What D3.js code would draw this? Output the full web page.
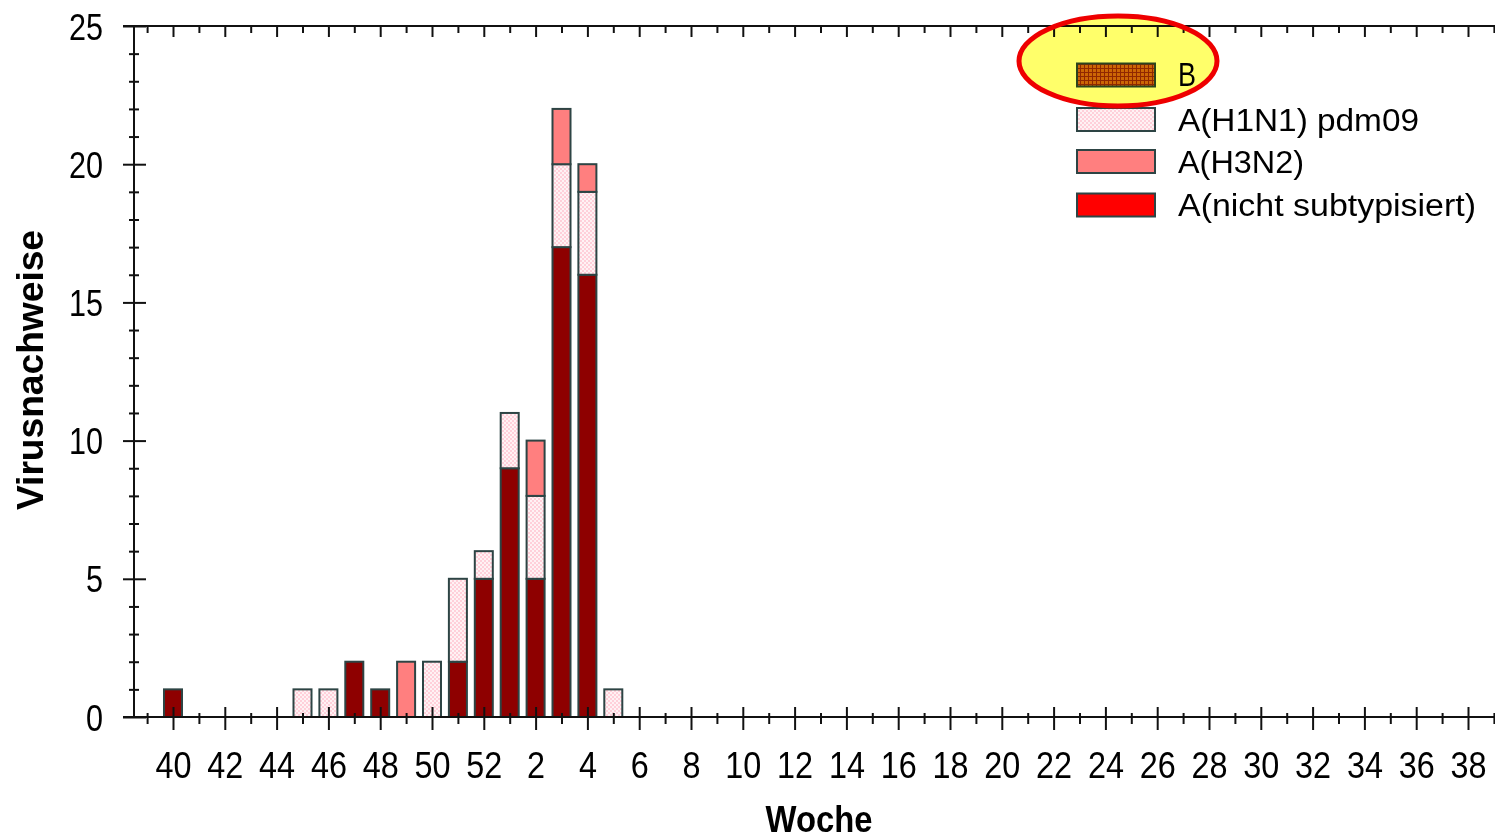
<!DOCTYPE html>
<html>
<head>
<meta charset="utf-8">
<script src="https://cdn.jsdelivr.net/npm/d3@7"></script>
<style>
  html, body { margin: 0; padding: 0; background: #fff; }
  svg { display: block; }
  text { font-family: "Liberation Sans", Arial, sans-serif; fill: #000; }
</style>
</head>
<body>
<svg id="chart" width="1495" height="840"></svg>
<script>
// ---- data ----
const weeks = [40,41,42,43,44,45,46,47,48,49,50,51,52,
  1,2,3,4,5,6,7,8,9,10,11,12,13,14,15,16,17,18,19,20,21,22,23,24,25,26,27,28,29,30,31,32,33,34,35,36,37,38,39];
const tickLabelWeeks = [40,42,44,46,48,50,52,2,4,6,8,10,12,14,16,18,20,22,24,26,28,30,32,34,36,38];
const yTicks = [0,5,10,15,20,25];
const nichtSubtyp = [1,0,0,0,0,0,0,2,1,0,0,2,5, 9,5,17,16,0,0,0,0,0,0,0,0,0,0,0,0,0,0,0,0,0,0,0,0,0,0,0,0,0,0,0,0,0,0,0,0,0,0,0];
const h1n1 = [0,0,0,0,0,1,1,0,0,0,2,3,1, 2,3,3,3,1,0,0,0,0,0,0,0,0,0,0,0,0,0,0,0,0,0,0,0,0,0,0,0,0,0,0,0,0,0,0,0,0,0,0];
const h3n2 = [0,0,0,0,0,0,0,0,0,2,0,0,0, 0,2,2,1,0,0,0,0,0,0,0,0,0,0,0,0,0,0,0,0,0,0,0,0,0,0,0,0,0,0,0,0,0,0,0,0,0,0,0];
const typeB = [0,0,0,0,0,0,0,0,0,0,0,0,0, 0,0,0,0,0,0,0,0,0,0,0,0,0,0,0,0,0,0,0,0,0,0,0,0,0,0,0,0,0,0,0,0,0,0,0,0,0,0,0];
const seriesNames = ["A(nicht subtypisiert)", "A(H1N1) pdm09", "A(H3N2)", "B"];
const legendOrder = ["B", "A(H1N1) pdm09", "A(H3N2)", "A(nicht subtypisiert)"];
const xTitle = "Woche";
const yTitle = "Virusnachweise";

// ---- setup ----
const svg = d3.select("#chart");
const defs = svg.append("defs");

// checker pattern for H1N1
const pH1 = defs.append("pattern").attr("id","pH1").attr("patternUnits","userSpaceOnUse")
  .attr("width",4).attr("height",4);
pH1.append("rect").attr("width",4).attr("height",4).attr("fill","#fff2f4");
pH1.append("rect").attr("width",2).attr("height",2).attr("fill","#ffd0da");
pH1.append("rect").attr("x",2).attr("y",2).attr("width",2).attr("height",2).attr("fill","#ffd0da");

// grid pattern for B
const pB = defs.append("pattern").attr("id","pB").attr("patternUnits","userSpaceOnUse")
  .attr("width",4).attr("height",4);
pB.append("rect").attr("width",4).attr("height",4).attr("fill","#cc660c");
pB.append("rect").attr("width",1).attr("height",4).attr("fill","#902800");
pB.append("rect").attr("width",4).attr("height",1).attr("fill","#902800");

const colors = {
  "A(nicht subtypisiert)": "#8e0000",
  "A(H1N1) pdm09": "url(#pH1)",
  "A(H3N2)": "#ff7f7f",
  "B": "url(#pB)"
};
const legendColors = {
  "A(nicht subtypisiert)": "#ff0000",
  "A(H1N1) pdm09": "url(#pH1)",
  "A(H3N2)": "#ff7f7f",
  "B": "url(#pB)"
};
const edge = "#2d4444";

const x = d3.scaleLinear().domain([-2, 51]).range([121.2, 121.2 + 53 * 25.9]);
const y = d3.scaleLinear().domain([0, 25]).range([717, 26]);
const xLeft = 123, xRight = 1495;

const idx = weeks.map((w, i) => i);
const majorIdx = idx.filter(i => tickLabelWeeks.includes(weeks[i]));
const minorIdx = [-1].concat(idx.filter(i => !tickLabelWeeks.includes(weeks[i])));

// ---- bars ----
const table = weeks.map((w, i) => ({
  i,
  "A(nicht subtypisiert)": nichtSubtyp[i],
  "A(H1N1) pdm09": h1n1[i],
  "A(H3N2)": h3n2[i],
  "B": typeB[i]
}));
const stack = d3.stack().keys(seriesNames)(table);
const barW = 18;
const gBars = svg.append("g");
stack.forEach(layer => {
  gBars.selectAll(null)
    .data(layer.filter(d => d[1] > d[0]))
    .join("rect")
    .attr("x", d => x(d.data.i) - barW / 2)
    .attr("width", barW)
    .attr("y", d => y(d[1]))
    .attr("height", d => y(d[0]) - y(d[1]))
    .attr("fill", colors[layer.key])
    .attr("stroke", edge)
    .attr("stroke-width", 2);
});

// ---- axes ----
const axColor = "#111";
// bottom major
const gxMaj = svg.append("g").attr("transform", `translate(0,${y(0)})`)
  .call(d3.axisBottom(x).tickValues(majorIdx).tickFormat(i => weeks[i]).tickSizeOuter(0));
gxMaj.select(".domain").remove();
gxMaj.selectAll(".tick line").attr("y1", -10).attr("y2", 13).attr("stroke", axColor).attr("stroke-width", 2);
gxMaj.selectAll(".tick text")
  .attr("y", 61).attr("dy", null)
  .style("font-size", "37px")
  .attr("fill", "#000")
  .attr("textLength", i => String(weeks[i]).length * 18)
  .attr("lengthAdjust", "spacingAndGlyphs");
// bottom minor
const gxMin = svg.append("g").attr("transform", `translate(0,${y(0)})`)
  .call(d3.axisBottom(x).tickValues(minorIdx).tickFormat("").tickSizeOuter(0));
gxMin.select(".domain").remove();
gxMin.selectAll(".tick line").attr("y1", -4).attr("y2", 7).attr("stroke", axColor).attr("stroke-width", 2);
svg.append("line").attr("x1", xLeft).attr("x2", xRight).attr("y1", y(0)).attr("y2", y(0))
  .attr("stroke", axColor).attr("stroke-width", 2);

// top axis (ticks pointing down)
const gtMaj = svg.append("g").attr("transform", `translate(0,${y(25)})`)
  .call(d3.axisBottom(x).tickValues(majorIdx).tickFormat("").tickSize(11).tickSizeOuter(0));
gtMaj.select(".domain").remove();
gtMaj.selectAll(".tick line").attr("stroke", axColor).attr("stroke-width", 2);
const gtMin = svg.append("g").attr("transform", `translate(0,${y(25)})`)
  .call(d3.axisBottom(x).tickValues(minorIdx).tickFormat("").tickSize(7).tickSizeOuter(0));
gtMin.select(".domain").remove();
gtMin.selectAll(".tick line").attr("stroke", axColor).attr("stroke-width", 2);
svg.append("line").attr("x1", xLeft).attr("x2", xRight).attr("y1", y(25)).attr("y2", y(25))
  .attr("stroke", axColor).attr("stroke-width", 2);

// left axis
const yAxisX = 134;
const gyMaj = svg.append("g").attr("transform", `translate(${yAxisX},0)`)
  .call(d3.axisLeft(y).tickValues(yTicks).tickFormat(d3.format("d")).tickSizeOuter(0));
gyMaj.select(".domain").remove();
gyMaj.selectAll(".tick line").attr("x1", -11).attr("x2", 12).attr("stroke", axColor).attr("stroke-width", 2);
gyMaj.selectAll(".tick text")
  .attr("x", -31).attr("dy", null).attr("y", 13)
  .style("font-size", "37px")
  .attr("fill", "#000")
  .attr("text-anchor", "end")
  .attr("textLength", d => String(d).length * 17)
  .attr("lengthAdjust", "spacingAndGlyphs");
const yMinor = d3.range(1, 25).filter(v => v % 5 !== 0);
const gyMin = svg.append("g").attr("transform", `translate(${yAxisX},0)`)
  .call(d3.axisLeft(y).tickValues(yMinor).tickFormat("").tickSizeOuter(0));
gyMin.select(".domain").remove();
gyMin.selectAll(".tick line").attr("x1", -5).attr("x2", 5).attr("stroke", axColor).attr("stroke-width", 2);
svg.append("line").attr("x1", yAxisX).attr("x2", yAxisX).attr("y1", y(25)).attr("y2", y(0))
  .attr("stroke", axColor).attr("stroke-width", 2);

// axis titles
svg.append("text").attr("x", 819).attr("y", 832)
  .attr("text-anchor", "middle").style("font-size", "37px").style("font-weight", "bold")
  .attr("textLength", 107).attr("lengthAdjust", "spacingAndGlyphs")
  .text(xTitle);
svg.append("text").attr("transform", "translate(43,370) rotate(-90)")
  .attr("text-anchor", "middle").style("font-size", "36px").style("font-weight", "bold")
  .attr("textLength", 280).attr("lengthAdjust", "spacingAndGlyphs")
  .text(yTitle);

// ---- legend ----
const legendRows = [
  { key: "B", cy: 75, w: 18 },
  { key: "A(H1N1) pdm09", cy: 119.5, w: 241 },
  { key: "A(H3N2)", cy: 161.5, w: 126 },
  { key: "A(nicht subtypisiert)", cy: 205, w: 298 }
];
const gLeg = svg.append("g");
legendRows.forEach(r => {
  gLeg.append("rect").attr("x", 1077).attr("y", r.cy - 11.5).attr("width", 78).attr("height", 23)
    .attr("fill", legendColors[r.key]).attr("stroke", edge).attr("stroke-width", 2);
  gLeg.append("text").attr("x", 1178).attr("y", r.cy + 11)
    .style("font-size", r.key === "B" ? "34px" : "31px")
    .attr("fill", r.key === "B" ? "#5e5e3a" : "#000")
    .attr("textLength", r.w).attr("lengthAdjust", "spacingAndGlyphs")
    .text(r.key);
});

// ---- highlight ellipse around "B" ----
svg.append("ellipse").attr("cx", 1118).attr("cy", 61).attr("rx", 99).attr("ry", 45)
  .attr("fill", "#ffff6a").style("mix-blend-mode", "multiply");
svg.append("ellipse").attr("cx", 1118).attr("cy", 61).attr("rx", 99).attr("ry", 45)
  .attr("fill", "none").attr("stroke", "#ee0000").attr("stroke-width", 5);
</script>
</body>
</html>
